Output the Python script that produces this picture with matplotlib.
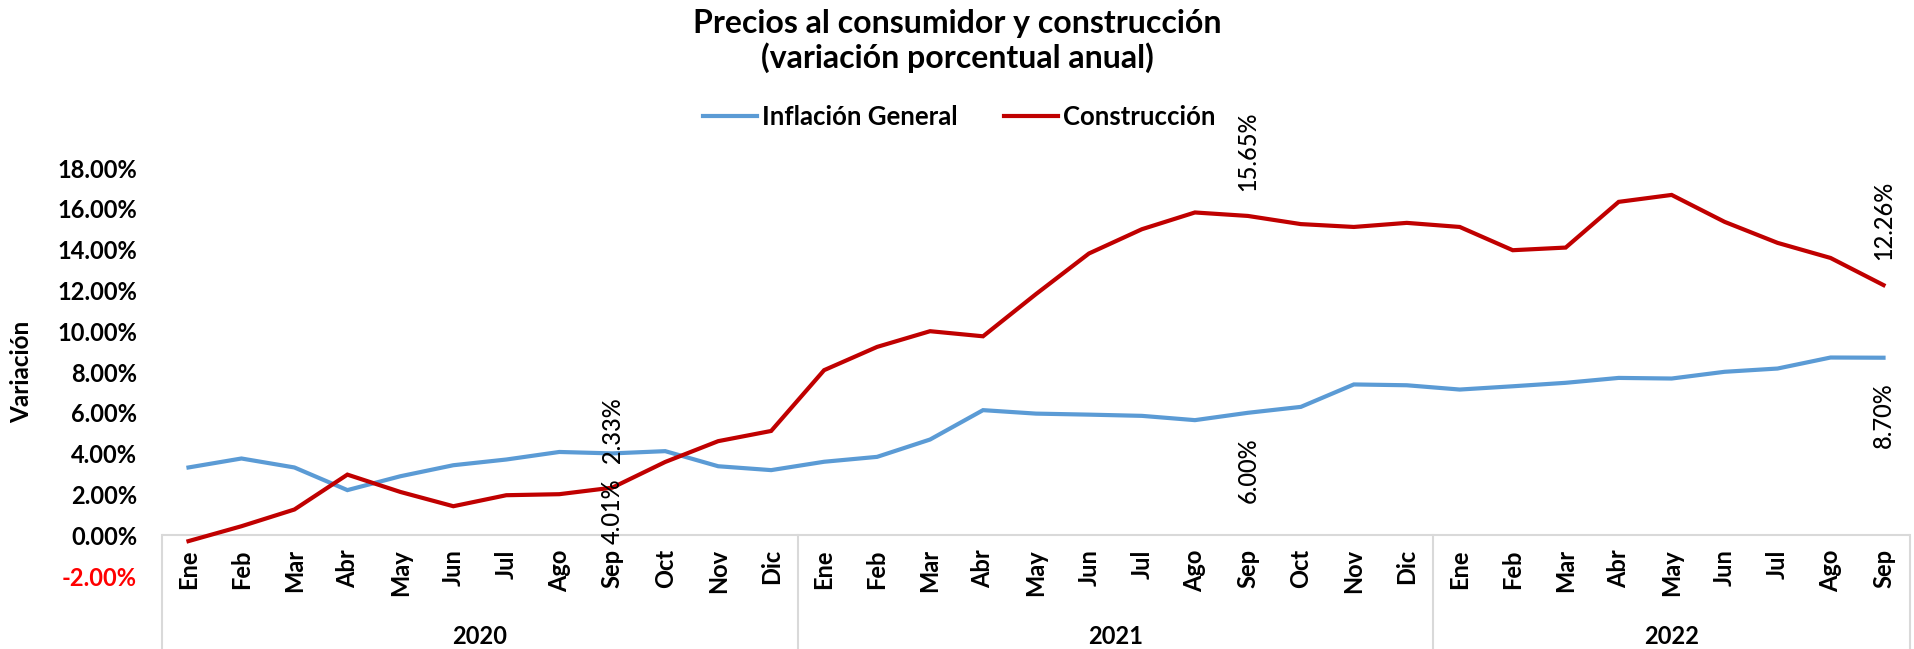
import matplotlib
matplotlib.use("Agg")
import matplotlib.pyplot as plt

# Data
meses = ["Ene", "Feb", "Mar", "Abr", "May", "Jun", "Jul", "Ago", "Sep", "Oct", "Nov", "Dic"]
anios = ["2020", "2021", "2022"]
meses_por_anio = [12, 12, 9]

inflacion = [3.32, 3.76, 3.32, 2.21, 2.89, 3.43, 3.71, 4.08, 4.01, 4.12, 3.38, 3.19,
             3.60, 3.84, 4.69, 6.13, 5.96, 5.91, 5.85, 5.64, 6.00, 6.29, 7.39, 7.35,
             7.14, 7.30, 7.47, 7.71, 7.68, 8.01, 8.17, 8.71, 8.70]
construccion = [-0.29, 0.44, 1.26, 2.97, 2.12, 1.42, 1.96, 2.01, 2.33, 3.59, 4.61, 5.11,
                8.09, 9.23, 10.00, 9.75, 11.82, 13.81, 15.00, 15.82, 15.65, 15.25, 15.11, 15.31,
                15.11, 13.97, 14.10, 16.34, 16.68, 15.36, 14.33, 13.59, 12.26]
etiquetas_idx = [8, 20, 32]  # Sep de cada año

yticks = [-2, 0, 2, 4, 6, 8, 10, 12, 14, 16, 18]

AZUL = "#5B9BD5"
ROJO = "#C00000"
FONT = "Lato"

plt.rcParams["font.family"] = [FONT, "DejaVu Sans"]

fig = plt.figure(figsize=(19.14, 6.49), dpi=100)
ax = fig.add_axes([162 / 1914, 1 - 576 / 649, (1910 - 162) / 1914, (576 - 168) / 649])

etiquetas = []
for n in meses_por_anio:
    etiquetas += meses[:n]
x = list(range(len(etiquetas)))

ax.plot(x, inflacion, color=AZUL, lw=3.0, label="Inflación General", solid_joinstyle="miter")
ax.plot(x, construccion, color=ROJO, lw=3.0, label="Construcción", solid_joinstyle="miter")

ax.set_xlim(-0.5, len(x) - 0.5)
ax.set_ylim(-2, 18)

# y axis
ax.set_yticks(yticks)
ax.set_yticklabels([f"{v:.2f}%" for v in yticks], fontsize=17, fontweight="bold")
for lab, v in zip(ax.get_yticklabels(), yticks):
    if v < 0:
        lab.set_color("red")
ax.tick_params(axis="y", length=0, pad=18)
ax.set_xticks([])
for s in ax.spines.values():
    s.set_visible(False)

# category axis at 0
ax.axhline(0, color="#D9D9D9", lw=1.5, zorder=0)
bounds = [-0.5]
for n in meses_por_anio:
    bounds.append(bounds[-1] + n)
y0 = 2 / 20
for b in bounds:
    ax.axvline(b, ymin=-0.18, ymax=y0, color="#D9D9D9", lw=1.5, clip_on=False, zorder=0)

for i, lab in enumerate(etiquetas):
    ax.annotate(lab, xy=(i, 0), xytext=(0, -14), textcoords="offset pixels",
                rotation=90, ha="center", va="top", fontsize=17, fontweight="bold",
                annotation_clip=False)

for k, a in enumerate(anios):
    cx = (bounds[k] + bounds[k + 1]) / 2
    ax.annotate(a, xy=(cx, 0), xytext=(0, -101), textcoords="offset pixels",
                ha="center", va="center", fontsize=17, fontweight="bold",
                annotation_clip=False)

# data labels
for i in etiquetas_idx:
    ax.annotate(f"{inflacion[i]:.2f}%", xy=(i, inflacion[i]), xytext=(0, -25),
                textcoords="offset pixels", rotation=90, ha="center", va="top",
                fontsize=17, fontweight="medium", annotation_clip=False)
    ax.annotate(f"{construccion[i]:.2f}%", xy=(i, construccion[i]), xytext=(0, 25),
                textcoords="offset pixels", rotation=90, ha="center", va="bottom",
                fontsize=17, fontweight="medium", annotation_clip=False)

# titles
fig.text(0.5, 1 - 41 / 649, "Precios al consumidor y construcción\n(variación porcentual anual)",
         ha="center", va="center", fontsize=23, fontweight="bold", linespacing=1.15)
fig.text(22 / 1914, 1 - 372 / 649, "Variación", rotation=90, ha="center", va="center",
         fontsize=17.5, fontweight="bold")

fig.legend(loc="center", bbox_to_anchor=(959 / 1914, 1 - 117 / 649), ncol=2, frameon=False,
           prop={"family": FONT, "weight": "bold", "size": 18.5},
           handlelength=2.1, handletextpad=0.2, columnspacing=1.8)

fig.savefig("out.png", dpi=100)
